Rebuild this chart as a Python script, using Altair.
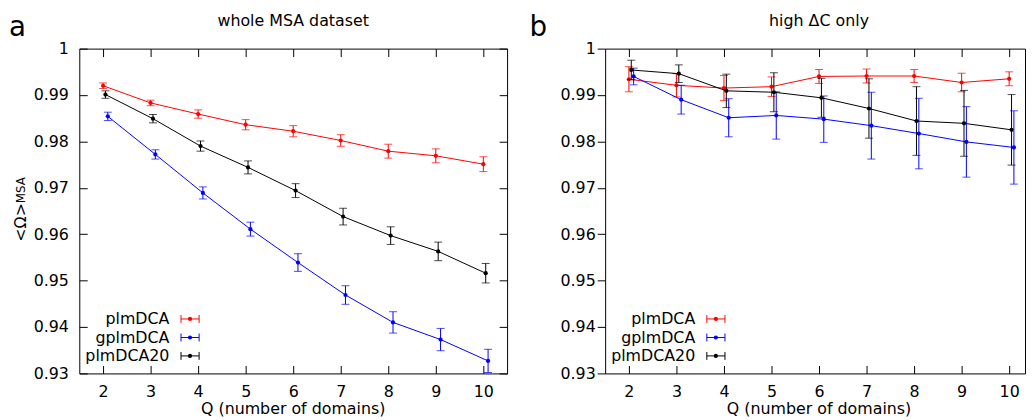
import altair as alt
import pandas as pd

FONT = "DejaVu Sans"

Q = [2, 3, 4, 5, 6, 7, 8, 9, 10]
SERIES = ["plmDCA", "gplmDCA", "plmDCA20"]
COLORS = ["#ff0000", "#0000ff", "#000000"]
X_SHIFT = [0.0, 0.1, 0.05]
Y_TICKS = [0.93, 0.94, 0.95, 0.96, 0.97, 0.98, 0.99, 1.0]

# panel a: whole MSA dataset
a_plm = [0.9920, 0.9883, 0.9859, 0.9836, 0.9822, 0.9802, 0.9779, 0.9769, 0.9751]
a_plm_err = [0.0006, 0.0006, 0.0009, 0.0011, 0.0012, 0.00125, 0.0015, 0.0015, 0.0016]
a_gplm = [0.9854, 0.9772, 0.9689, 0.9611, 0.9539, 0.9469, 0.9410, 0.9373, 0.9327]
a_gplm_err = [0.0009, 0.0010, 0.0013, 0.0015, 0.0019, 0.0020, 0.0023, 0.0024, 0.0025]
a_plm20 = [0.9901, 0.9849, 0.9790, 0.9744, 0.9694, 0.9638, 0.9597, 0.9563, 0.9516]
a_plm20_err = [0.0008, 0.0009, 0.0011, 0.0014, 0.0015, 0.0018, 0.0019, 0.0020, 0.0021]

# panel b: high dC only
b_plm = [0.9934, 0.9921, 0.9915, 0.9918, 0.9940, 0.9941, 0.9941, 0.9927, 0.9935]
b_plm_err = [0.0027, 0.0025, 0.0027, 0.0021, 0.0015, 0.0015, 0.0014, 0.0020, 0.0015]
b_gplm = [0.9940, 0.9890, 0.9851, 0.9856, 0.9848, 0.9834, 0.9817, 0.9799, 0.9787]
b_gplm_err = [0.0018, 0.0031, 0.0041, 0.0051, 0.0050, 0.0072, 0.0076, 0.0076, 0.0079]
b_plm20 = [0.9954, 0.9946, 0.9909, 0.9906, 0.9894, 0.9871, 0.9844, 0.9839, 0.9825]
b_plm20_err = [0.0021, 0.0019, 0.0036, 0.0042, 0.0042, 0.0064, 0.0074, 0.0071, 0.0076]

PW, PH = 432, 328
LEG_Y = [273, 291.7, 310.3]


def series_df(vals, errs, shift):
    return pd.DataFrame({
        "q": [q + shift for q in Q],
        "v": vals,
        "lo": [v - e for v, e in zip(vals, errs)],
        "hi": [v + e for v, e in zip(vals, errs)],
    })


def panel(data, xmax, width, title, letter, letter_x, left_inward, show_ytitle):
    xs = alt.Scale(domain=[1.5, xmax], nice=False, zero=False)
    ys = alt.Scale(domain=[0.93, 1.0], nice=False, zero=False)
    layers = []
    for i, (vals, errs) in enumerate(data):
        df = series_df(vals, errs, X_SHIFT[i])
        col = COLORS[i]
        base = alt.Chart(df)
        if i == 0:
            x_rule = alt.X("q:Q", scale=xs, axis=alt.Axis(
                orient="top", values=Q, labels=False, tickSize=8, offset=-8,
                domain=False, grid=False, title=None))
            if left_inward:
                y_rule = alt.Y("lo:Q", scale=ys, axis=alt.Axis(
                    orient="right", values=Y_TICKS, labels=False, tickSize=8,
                    offset=-8, domain=False, grid=False, title=None))
            else:
                y_rule = alt.Y("lo:Q", scale=ys, axis=None)
            x_line = alt.X("q:Q", scale=xs, axis=alt.Axis(
                orient="bottom", values=Q, format="d", tickSize=8, offset=-8,
                labelPadding=10, domain=False, grid=False, title=None,
                labelFlush=False))
            if left_inward:
                yax = alt.Axis(orient="left", values=Y_TICKS, format=".2~f",
                               tickSize=8, offset=-8, labelPadding=11,
                               domain=False, grid=False, title=None,
                               labelFlush=False)
            else:
                yax = alt.Axis(orient="left", values=Y_TICKS, format=".2~f",
                               tickSize=8, labelPadding=2, domain=False,
                               grid=False, title=None, labelFlush=False)
            y_line = alt.Y("v:Q", scale=ys, axis=yax)
        else:
            x_rule = alt.X("q:Q", scale=xs, axis=None)
            y_rule = alt.Y("lo:Q", scale=ys, axis=None)
            x_line = alt.X("q:Q", scale=xs, axis=None)
            y_line = alt.Y("v:Q", scale=ys, axis=None)
        x_plain = alt.X("q:Q", scale=xs, axis=None)
        rule = base.mark_rule(color=col, strokeWidth=1).encode(
            x=x_rule, y=y_rule, y2="hi:Q")
        cap_lo = base.mark_tick(color=col, orient="horizontal", size=8,
                                thickness=1).encode(
            x=x_plain, y=alt.Y("lo:Q", scale=ys, axis=None))
        cap_hi = base.mark_tick(color=col, orient="horizontal", size=8,
                                thickness=1).encode(
            x=x_plain, y=alt.Y("hi:Q", scale=ys, axis=None))
        line = base.mark_line(color=col, strokeWidth=1).encode(x=x_line, y=y_line)
        pts = base.mark_point(color=col, filled=True, size=18, opacity=1).encode(
            x=x_plain, y=alt.Y("v:Q", scale=ys, axis=None))
        layers += [rule, cap_lo, cap_hi, line, pts]

    one = pd.DataFrame({"k": [0]})
    # legend
    for i, name in enumerate(SERIES):
        yr = LEG_Y[i]
        col = COLORS[i]
        b = alt.Chart(pd.DataFrame({"name": [name]}))
        layers.append(b.mark_text(align="right", baseline="alphabetic",
                                  font=FONT, fontSize=16, color="#000").encode(
            x=alt.value(91), y=alt.value(yr + 5.5), text="name:N"))
        layers.append(b.mark_rule(color=col, strokeWidth=1).encode(
            x=alt.value(102.7), x2=alt.value(121), y=alt.value(yr)))
        layers.append(b.mark_rule(color=col, strokeWidth=1).encode(
            x=alt.value(102.7), y=alt.value(yr - 4), y2=alt.value(yr + 4)))
        layers.append(b.mark_rule(color=col, strokeWidth=1).encode(
            x=alt.value(121), y=alt.value(yr - 4), y2=alt.value(yr + 4)))
        layers.append(b.mark_point(color=col, filled=True, size=18, opacity=1).encode(
            x=alt.value(111.8), y=alt.value(yr)))

    tb = alt.Chart(one)
    layers.append(tb.mark_text(text=title, align="center", baseline="alphabetic",
                               font=FONT, fontSize=16, color="#000").encode(
        x=alt.value(216), y=alt.value(-22.7)))
    layers.append(tb.mark_text(text=letter, align="left", baseline="alphabetic",
                               font=FONT, fontSize=28, color="#000").encode(
        x=alt.value(letter_x), y=alt.value(-12.7)))
    layers.append(tb.mark_text(text="Q (number of domains)", align="center",
                               baseline="alphabetic", font=FONT, fontSize=16,
                               color="#000").encode(
        x=alt.value(216), y=alt.value(369)))
    if show_ytitle:
        layers.append(tb.mark_text(text="<Ω>", align="center", baseline="alphabetic",
                                   angle=270, font=FONT, fontSize=16,
                                   color="#000").encode(
            x=alt.value(-54), y=alt.value(175.5)))
        layers.append(tb.mark_text(text="MSA", align="center", baseline="alphabetic",
                                   angle=270, font=FONT, fontSize=12,
                                   color="#000").encode(
            x=alt.value(-55), y=alt.value(143)))

    return alt.layer(*layers).resolve_axis(x="independent", y="independent").properties(
        width=width, height=PH)


left = panel([(a_plm, a_plm_err), (a_gplm, a_gplm_err), (a_plm20, a_plm20_err)],
             10.5, PW, "whole MSA dataset", "a", -71, True, True)
right = panel([(b_plm, b_plm_err), (b_gplm, b_gplm_err), (b_plm20, b_plm20_err)],
              1.5 + 424 / 48.0, 424, "high ΔC only", "b", -76.5, False, False)

chart = alt.hconcat(left, right, spacing=99, bounds="flush").properties(
    padding={"left": 0, "top": 2, "right": 0, "bottom": 0}
).configure(font=FONT).configure_view(stroke="#000", strokeWidth=1).configure_axis(
    labelFont=FONT, labelFontSize=16, labelColor="#000", tickColor="#000",
    labelOverlap=False
)

chart.save("out.html", embed_options={"renderer": "svg", "actions": False})
